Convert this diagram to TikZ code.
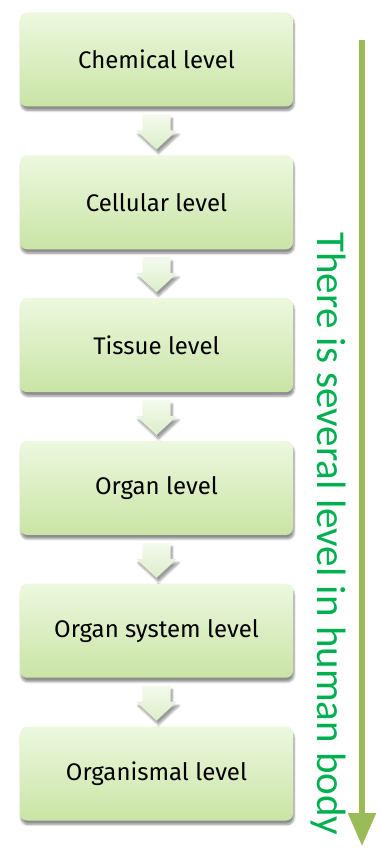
\documentclass[tikz,border=0pt]{standalone}
\usepackage{fontspec}
\setmainfont{Fira Sans}
\newfontfamily\sidefont{Carlito}
\usetikzlibrary{shadows.blur,arrows.meta,calc}
\definecolor{boxtop}{HTML}{EDF8DF}
\definecolor{boxbot}{HTML}{C9E4A5}
\definecolor{arrtop}{HTML}{F4FAEE}
\definecolor{arrbot}{HTML}{DCEEC8}
\definecolor{barcol}{HTML}{9BBB59}
\definecolor{txtcol}{HTML}{00B050}
\begin{document}
\begin{tikzpicture}[x=1pt,y=-1pt,
	  levelbox/.style={rounded corners=7pt,minimum width=273pt,minimum height=94pt,
	    top color=boxtop,bottom color=boxbot,font=\fontsize{24}{28}\selectfont,
	    blur shadow={shadow xshift=1pt,shadow yshift=-4pt,shadow blur steps=6,shadow opacity=45}},
	  downarr/.style={top color=arrtop,bottom color=arrbot,
	    blur shadow={shadow xshift=2pt,shadow yshift=-4pt,shadow blur steps=6,shadow opacity=40}}]
	  \useasboundingbox (0,0) rectangle (380,848);
	  \node[levelbox] (b1) at (156.5,59.5) {Chemical level};
	  \node[levelbox] (b2) at (156.5,202.3) {Cellular level};
	  \node[levelbox] (b3) at (156.5,345.1) {Tissue level};
	  \node[levelbox] (b4) at (156.5,487.9) {Organ level};
	  \node[levelbox] (b5) at (156.5,630.7) {Organ system level};
	  \node[levelbox] (b6) at (156.5,773.5) {Organismal level};
	  % block arrows between the levels
	  \foreach \a/\b in {b1/b2,b2/b3,b3/b4,b4/b5,b5/b6}{
	    \coordinate (\a\b) at ($(\a.south)!0.5!(\b.north)+(0,1)$);
	    \path[downarr] ($(\a\b)+(-14,-17.5)$) -- ($(\a\b)+(14,-17.5)$) -- ($(\a\b)+(14,-1.5)$)
	      -- ($(\a\b)+(20.5,-1.5)$) -- ($(\a\b)+(0,17.5)$) -- ($(\a\b)+(-20.5,-1.5)$)
	      -- ($(\a\b)+(-14,-1.5)$) -- cycle;
	  }
	  \coordinate (bartop) at (362,40);
	  \coordinate (barbot) at (362,846);
	  \draw[barcol,line width=5.5pt,-{Triangle[width=27pt,length=33pt]}] (bartop) -- (barbot);
	  \node[rotate=-90,text=txtcol,font=\sidefont\fontsize{41}{48}\selectfont] (side) at (328,534) {There is several level in human body};
	\end{tikzpicture}
\end{document}
